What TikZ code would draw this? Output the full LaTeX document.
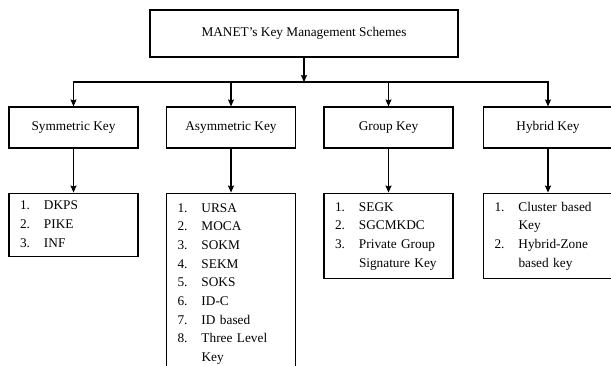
\documentclass[tikz,border=0pt]{standalone}
\usepackage{fontspec}
\setmainfont{Liberation Serif}
\usetikzlibrary{positioning, arrows.meta}

\begin{document}
\begin{tikzpicture}[x=1pt, y=-1pt]
    \tikzset{myarrow/.style={>={Stealth[length=7pt, width=6pt, inset=1pt]}, line width=1.1pt},
      keybox/.style={draw, line width=1.1pt, minimum width=129pt, minimum height=41pt, inner sep=0pt},
      listbox/.style={draw, line width=1.1pt, text width=107pt, inner xsep=11pt, inner ysep=3.5pt, align=left},
      every node/.style={font=\fontsize{13.3}{18.7}\selectfont}}

    \useasboundingbox (0,0) rectangle (611,365);

    \draw node[draw, line width=1.1pt, minimum width=308pt, minimum height=47pt] (manet) at (304,33.5) {MANET's Key Management Schemes};
    \coordinate (bus) at (304,82);

    \draw node[keybox] (sym) at (73.5,127.5) {Symmetric Key};
    \draw node[keybox] (asym) at (231,127.5) {Asymmetric Key};
    \draw node[keybox] (group) at (388.5,127.5) {Group Key};
    \draw node[keybox] (hybrid) at (548,127.5) {Hybrid Key};

    \draw node[listbox, minimum height=63pt, below=44pt of sym] (symlist) {%
      \begin{tabular}{@{}p{24pt}@{}l@{}}
        1. & DKPS\\
        2. & PIKE\\
        3. & INF
      \end{tabular}};
    \draw node[listbox, minimum height=180pt, below=44pt of asym] (asymlist) {%
      \begin{tabular}{@{}p{24pt}@{}l@{}}
        1. & URSA\\
        2. & MOCA\\
        3. & SOKM\\
        4. & SEKM\\
        5. & SOKS\\
        6. & ID-C\\
        7. & ID based\\
        8. & Three Level\\
           & Key
      \end{tabular}};
    \draw node[listbox, minimum height=85pt, below=44pt of group] (grouplist) {%
      \begin{tabular}{@{}p{24pt}@{}l@{}}
        1. & SEGK\\
        2. & SGCMKDC\\
        3. & Private Group\\
           & Signature Key
      \end{tabular}};
    \draw node[listbox, minimum height=85pt, below=44pt of hybrid] (hybridlist) {%
      \begin{tabular}{@{}p{24pt}@{}l@{}}
        1. & Cluster based\\
           & Key\\
        2. & Hybrid-Zone\\
           & based key
      \end{tabular}};

    \draw[->, myarrow] (manet) -- (bus);
    \draw[->, myarrow] (bus) -| (sym);
    \draw[->, myarrow] (bus) -| (asym);
    \draw[->, myarrow] (bus) -| (group);
    \draw[->, myarrow] (bus) -| (hybrid);
    \draw[->, myarrow] (sym) -- (symlist);
    \draw[->, myarrow] (asym) -- (asymlist);
    \draw[->, myarrow] (group) -- (grouplist);
    \draw[->, myarrow] (hybrid) -- (hybridlist);
  \end{tikzpicture}
\end{document}
